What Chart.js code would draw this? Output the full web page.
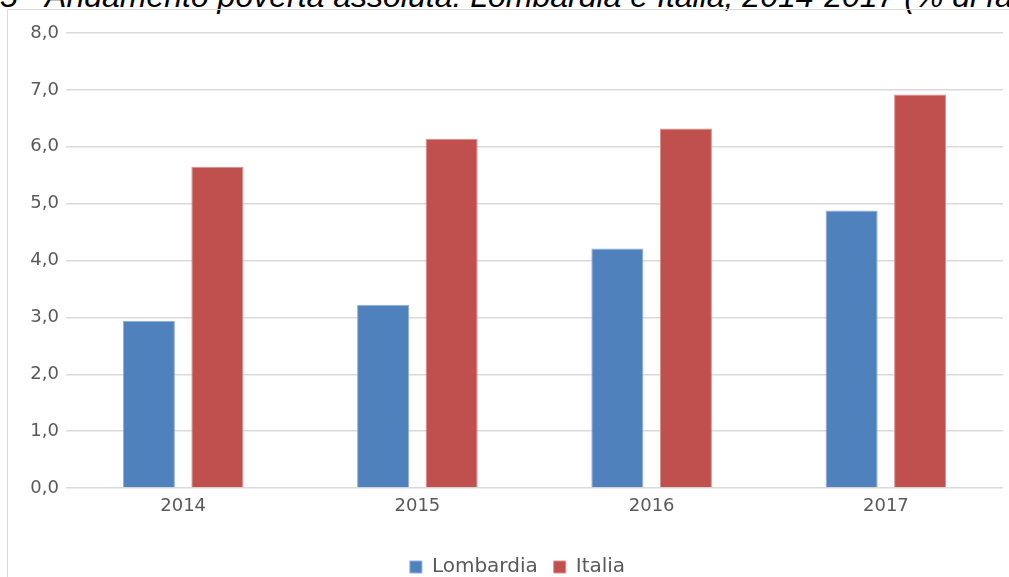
<!DOCTYPE html>
<html>
<head>
<meta charset="utf-8">
<script src="https://cdn.jsdelivr.net/npm/chart.js@4.4.1/dist/chart.umd.min.js"></script>
<style>
    html, body { margin: 0; padding: 0; background: #fff; overflow: hidden; width: 1009px; height: 577px; }
    #title { position: absolute; left: 0; top: -20px; white-space: nowrap; font: italic 32px "Liberation Sans", Arial, sans-serif; line-height: 32px; color: #000; }
    #frame { position: absolute; left: 7px; top: 9px; width: 1040px; height: 600px; border: 1px solid #d9d9d9; }
    #chart { position: absolute; left: 0; top: 0; }
</style>
</head>
<body>
<div id="title">5 - Andamento povertà assoluta: Lombardia e Italia, 2014-2017 (% di famiglie)</div>
<div id="frame"><canvas id="chart" width="1018" height="577"></canvas></div>
<script>
const years = ['2014', '2015', '2016', '2017'];
const lombardia = [2.94, 3.22, 4.21, 4.88];
const italia = [5.65, 6.14, 6.32, 6.92];
const seriesNames = ['Lombardia', 'Italia'];

const gray = '#595959';
const tickFont = { family: 'DejaVu Sans', size: 18 };

// legend sits a bit right of the plot centre in the original
const shiftLegend = {
    id: 'shiftLegend',
    afterLayout: chart => { chart.legend.left += 12; chart.legend.right += 12; }
};

new Chart(document.getElementById('chart'), {
    type: 'bar',
    data: {
        labels: years,
        datasets: [
            { label: seriesNames[0], data: lombardia, backgroundColor: '#4f81bd', borderColor: '#8eaedb', borderWidth: 1, categoryPercentage: 0.585, barPercentage: 0.76 },
            { label: seriesNames[1], data: italia, backgroundColor: '#c0504d', borderColor: '#dc8c8a', borderWidth: 1, categoryPercentage: 0.585, barPercentage: 0.76 }
        ]
    },
    plugins: [shiftLegend],
    options: {
        responsive: false, animation: false,
        layout: { padding: { top: 23, right: 23, left: 0, bottom: 0 } },
        plugins: {
            tooltip: { enabled: false },
            legend: { position: 'bottom', labels: { boxWidth: 12, boxHeight: 12, padding: 16, color: gray, font: { family: 'DejaVu Sans', size: 20 } } }
        },
        scales: {
            x: {
                grid: { display: false, drawTicks: false }, border: { display: false },
                ticks: { color: gray, font: tickFont, padding: 8 },
                afterFit: s => { s.height = 53; }
            },
            y: {
                min: 0, max: 8,
                grid: { color: '#dadada', lineWidth: 1.5, drawTicks: false }, border: { display: false },
                ticks: { stepSize: 1, color: gray, font: tickFont, padding: 7, callback: v => v.toFixed(1).replace('.', ',') },
                afterFit: s => { s.width = 58; }
            }
        }
    }
});
</script>
</body>
</html>
